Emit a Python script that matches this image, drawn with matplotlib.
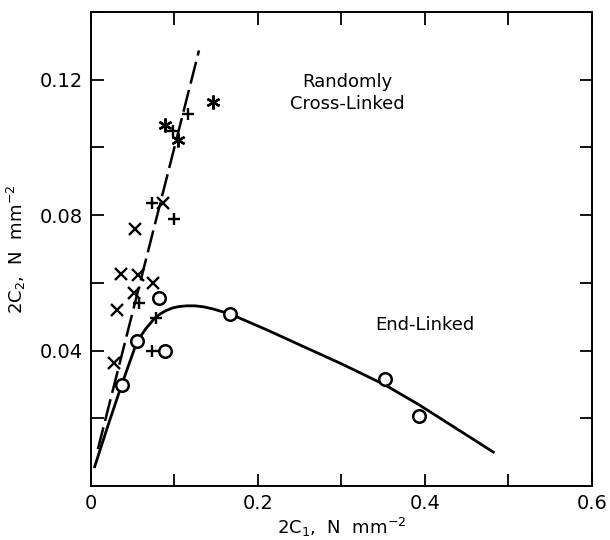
import matplotlib
matplotlib.use("Agg")
import matplotlib.pyplot as plt
from matplotlib.ticker import FixedLocator, FixedFormatter

# --- data ---
circle_x = [0.0367, 0.0555, 0.0814, 0.0886, 0.1667, 0.352, 0.393]
circle_y = [0.0298, 0.0428, 0.0554, 0.0400, 0.0508, 0.0315, 0.0207]

plus_x = [0.0579, 0.0786, 0.0738, 0.0727, 0.0994, 0.0978, 0.1165]
plus_y = [0.0540, 0.0495, 0.0400, 0.0835, 0.0789, 0.1049, 0.1099]

cross_x = [0.0279, 0.0315, 0.0355, 0.0519, 0.0567, 0.0747, 0.0527, 0.0866]
cross_y = [0.0364, 0.0520, 0.0626, 0.0569, 0.0623, 0.0599, 0.0758, 0.0837]

star_x = [0.0886, 0.1046, 0.1457]
star_y = [0.1066, 0.1022, 0.1135]

# solid curve (end-linked)
end_x = [0.004, 0.020, 0.037, 0.0555, 0.066, 0.0759, 0.083, 0.090, 0.098, 0.106, 0.115,
         0.125, 0.135, 0.146, 0.1667, 0.210, 0.250, 0.300, 0.352, 0.393, 0.430, 0.4835]
end_y = [0.0053, 0.0175, 0.0300, 0.0428, 0.0465, 0.0494, 0.0508, 0.0518, 0.0526, 0.0530, 0.0532,
         0.0532, 0.0529, 0.0523, 0.0508, 0.0462, 0.0417, 0.0361, 0.0299, 0.0240, 0.0182, 0.0098]

# dashed line (randomly cross-linked)
rand_x = [0.0084, 0.1295]
rand_y = [0.0109, 0.1286]

x_ticks = [0, 0.1, 0.2, 0.3, 0.4, 0.5, 0.6]
x_labels = ["0", "", "0.2", "", "0.4", "", "0.6"]
y_ticks = [0.02, 0.04, 0.06, 0.08, 0.10, 0.12, 0.14]
y_labels = ["", "0.04", "", "0.08", "", "0.12", ""]

plt.rcParams['font.family'] = ['DejaVu Sans']

fig = plt.figure(figsize=(6.10, 5.40), dpi=100)
ax = fig.add_axes([0.149, 0.100, 0.821, 0.878])

ax.plot(end_x, end_y, color='black', lw=2.0, solid_capstyle='butt', solid_joinstyle='round')
ax.plot(rand_x, rand_y, color='black', lw=1.8, dashes=(9, 2.6))

ax.plot(circle_x, circle_y, 'o', ms=9, mfc='white', mec='black', mew=1.8, zorder=3)
ax.plot(plus_x, plus_y, '+', ms=9, mec='black', mew=1.7, zorder=3)
ax.plot(cross_x, cross_y, 'x', ms=8.5, mec='black', mew=1.7, zorder=3)
ax.plot(star_x, star_y, marker=(6, 2, 0), ls='none', ms=10, mec='black', mew=1.7, zorder=3)

ax.set_xlim(0, 0.6)
ax.set_ylim(0, 0.14)

ax.xaxis.set_major_locator(FixedLocator(x_ticks))
ax.xaxis.set_major_formatter(FixedFormatter(x_labels))
ax.yaxis.set_major_locator(FixedLocator(y_ticks))
ax.yaxis.set_major_formatter(FixedFormatter(y_labels))

ax.tick_params(which='major', direction='in', length=9, width=1.3,
               top=True, right=True, labelsize=14, pad=6)

for s in ax.spines.values():
    s.set_linewidth(1.4)

ax.text(0.307, 0.116, "Randomly\nCross-Linked", ha='center', va='center',
        fontsize=13, linespacing=1.3)
ax.text(0.400, 0.0476, "End-Linked", ha='center', va='center', fontsize=13)

ax.set_xlabel("2C$_1$,  N  mm$^{-2}$", fontsize=13, labelpad=2)
ax.set_ylabel("2C$_2$,  N  mm$^{-2}$", fontsize=13, labelpad=8)

fig.savefig("out.png", dpi=100)
